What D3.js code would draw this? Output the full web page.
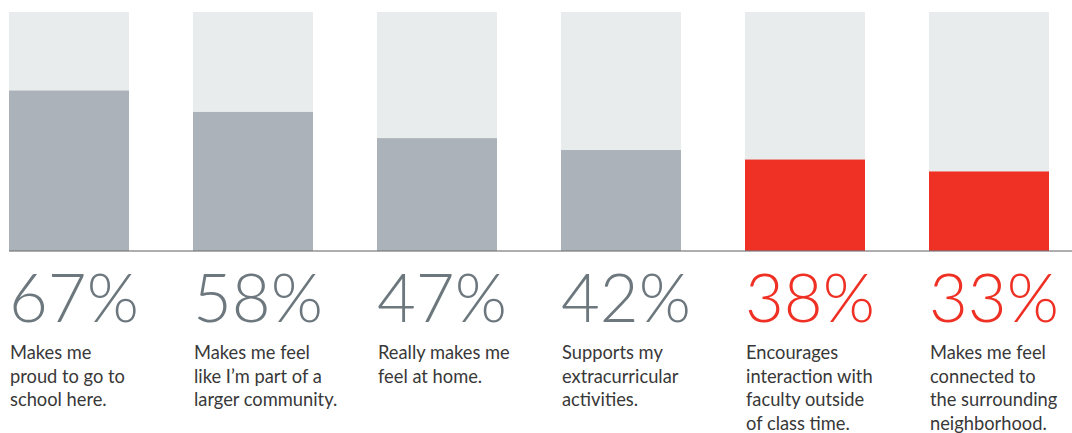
<!DOCTYPE html>
<html><head><meta charset="utf-8">
<script src="https://cdn.jsdelivr.net/npm/d3@7"></script>
<style>body{margin:0;background:#fff;} svg{display:block;}</style>
</head><body>
<svg id="chart" width="1072" height="433"></svg>
<script>
const categories = ["c1","c2","c3","c4","c5","c6"];
const values = [67, 58, 47, 42, 38, 33];
const highlight = [false, false, false, false, true, true];
const labels = [
  ["Makes me", "proud to go to", "school here."],
  ["Makes me feel", "like I\u2019m part of a", "larger community."],
  ["Really makes me", "feel at home."],
  ["Supports my", "extracurricular", "activities."],
  ["Encourages", "interaction with", "faculty outside", "of class time."],
  ["Makes me feel", "connected to", "the surrounding", "neighborhood."]
];

const svg = d3.select("#chart");
const x = d3.scaleBand().domain(categories).range([9, 1049]).paddingInner(64/184).paddingOuter(0);
const y = d3.scaleLinear().domain([0, 100]).range([250, 12]);

const g = svg.append("g");
const cols = g.selectAll("g.col").data(categories).join("g").attr("class","col");

cols.append("rect")
  .attr("x", d => x(d)).attr("width", x.bandwidth())
  .attr("y", y(100)).attr("height", y(0) - y(100) + 1)
  .attr("fill", "#e8eced");

cols.append("rect")
  .attr("x", d => x(d)).attr("width", x.bandwidth())
  .attr("y", (d,i) => y(values[i])).attr("height", (d,i) => y(0) - y(values[i]) + 1)
  .attr("fill", (d,i) => highlight[i] ? "#ee3124" : "#abb2b9");

svg.append("line")
  .attr("x1", 9).attr("x2", 1072).attr("y1", 251).attr("y2", 251)
  .attr("stroke", "rgb(120,120,120)").attr("stroke-opacity", 0.6).attr("stroke-width", 2);

cols.append("text")
  .attr("x", d => x(d) + 0).attr("y", 321.5)
  .attr("font-family", "Lato, 'Open Sans', sans-serif")
  .attr("font-weight", 300)
  .attr("font-size", 67)
  .attr("fill", (d,i) => highlight[i] ? "#ee3124" : "#6d787e")
  .text((d,i) => values[i] + "%");

cols.append("text")
  .attr("x", d => x(d) + 1).attr("y", 359)
  .attr("font-family", "Lato, 'Open Sans', sans-serif")
  .attr("font-weight", 400)
  .attr("font-size", 18.3)
  .attr("fill", "#383838")
  .selectAll("tspan").data((d,i) => labels[i]).join("tspan")
  .attr("x", function(){ return d3.select(this.parentNode).attr("x"); })
  .attr("dy", (d,j) => j === 0 ? 0 : 23.5)
  .text(d => d);
</script>
</body></html>
